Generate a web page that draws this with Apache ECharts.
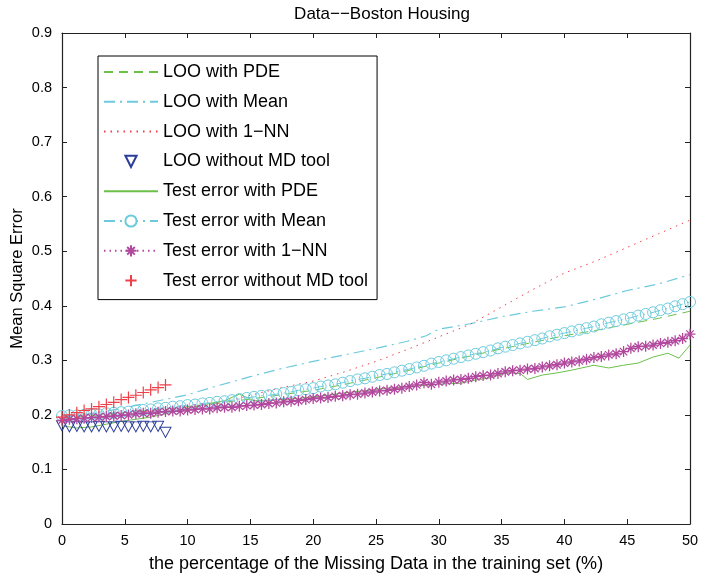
<!DOCTYPE html>
<html>
<head>
<meta charset="utf-8">
<script src="https://cdn.jsdelivr.net/npm/echarts@6/dist/echarts.min.js"></script>
<style>
  html, body { margin: 0; padding: 0; background: #fff; }
  #chart { width: 701px; height: 576px; }
</style>
</head>
<body>
<div id="chart"></div>
<script>
// missing-data percentage grid of the marker series
const missPct = [
  0.00, 0.59, 1.18, 1.76, 2.35, 2.94, 3.53, 4.12, 4.71, 5.29,
  5.88, 6.47, 7.06, 7.65, 8.24, 8.82, 9.41, 10.00, 10.59, 11.18,
  11.76, 12.35, 12.94, 13.53, 14.12, 14.71, 15.29, 15.88, 16.47, 17.06,
  17.65, 18.24, 18.82, 19.41, 20.00, 20.59, 21.18, 21.76, 22.35, 22.94,
  23.53, 24.12, 24.71, 25.29, 25.88, 26.47, 27.06, 27.65, 28.24, 28.82,
  29.41, 30.00, 30.59, 31.18, 31.76, 32.35, 32.94, 33.53, 34.12, 34.71,
  35.29, 35.88, 36.47, 37.06, 37.65, 38.24, 38.82, 39.41, 40.00, 40.59,
  41.18, 41.76, 42.35, 42.94, 43.53, 44.12, 44.71, 45.29, 45.88, 46.47,
  47.06, 47.65, 48.24, 48.82, 49.41, 50.00
];

// Test error with Mean (circles)
const testMean = [
  0.198, 0.199, 0.199, 0.200, 0.201, 0.201, 0.203, 0.204, 0.205, 0.206,
  0.208, 0.209, 0.210, 0.212, 0.213, 0.215, 0.216, 0.218, 0.219, 0.221,
  0.222, 0.224, 0.225, 0.227, 0.229, 0.231, 0.233, 0.235, 0.236, 0.238,
  0.240, 0.242, 0.245, 0.247, 0.249, 0.252, 0.254, 0.256, 0.259, 0.262,
  0.265, 0.267, 0.270, 0.273, 0.275, 0.278, 0.281, 0.284, 0.287, 0.290,
  0.294, 0.297, 0.300, 0.303, 0.306, 0.309, 0.312, 0.315, 0.318, 0.322,
  0.325, 0.328, 0.331, 0.334, 0.337, 0.340, 0.344, 0.347, 0.350, 0.353,
  0.356, 0.359, 0.362, 0.366, 0.369, 0.372, 0.375, 0.378, 0.382, 0.385,
  0.388, 0.392, 0.395, 0.399, 0.403, 0.407
];

// Test error with 1-NN (asterisks)
const testNN = [
  0.190, 0.192, 0.193, 0.194, 0.195, 0.196, 0.197, 0.198, 0.199, 0.200,
  0.202, 0.203, 0.203, 0.205, 0.206, 0.207, 0.207, 0.209, 0.210, 0.211,
  0.211, 0.213, 0.214, 0.214, 0.216, 0.217, 0.218, 0.219, 0.221, 0.222,
  0.224, 0.225, 0.226, 0.228, 0.230, 0.231, 0.232, 0.234, 0.235, 0.237,
  0.238, 0.240, 0.242, 0.244, 0.245, 0.247, 0.249, 0.252, 0.255, 0.259,
  0.256, 0.260, 0.262, 0.264, 0.265, 0.267, 0.270, 0.272, 0.273, 0.276,
  0.279, 0.281, 0.282, 0.284, 0.285, 0.288, 0.290, 0.292, 0.295, 0.297,
  0.299, 0.302, 0.305, 0.307, 0.310, 0.312, 0.316, 0.322, 0.325, 0.326,
  0.328, 0.331, 0.333, 0.336, 0.340, 0.348
];

// LOO without MD tool (triangles) and Test error without MD tool (plus)
const looNoTool = [
  0.180, 0.178, 0.179, 0.178, 0.178, 0.179, 0.178, 0.178, 0.179, 0.178,
  0.178, 0.179, 0.178, 0.179, 0.168
];
const testNoTool = [
  0.196, 0.200, 0.204, 0.208, 0.211, 0.215, 0.219, 0.223, 0.228, 0.232,
  0.236, 0.241, 0.246, 0.250, 0.255
];

// line-only series, [x, y] pairs
const loopde = [
  [0, 0.195], [2.5, 0.199], [5, 0.204], [7.5, 0.209], [10, 0.215], [12.5, 0.222],
  [15, 0.229], [17.5, 0.237], [20, 0.245], [22.5, 0.256], [25, 0.268], [27.5, 0.281],
  [30, 0.295], [32.5, 0.308], [35, 0.321], [37.5, 0.333], [40, 0.345], [42.5, 0.355],
  [45, 0.366], [47.5, 0.377], [50, 0.390]
];
const looMean = [
  [0, 0.195], [2.5, 0.203], [5, 0.213], [7.5, 0.225], [10, 0.237], [12.5, 0.254],
  [15, 0.270], [17.5, 0.285], [20, 0.298], [22.5, 0.310], [25, 0.322], [27.5, 0.335],
  [29, 0.345], [30, 0.357], [32.5, 0.367], [35, 0.380], [37.5, 0.390], [40, 0.398],
  [42.5, 0.412], [45, 0.428], [47.5, 0.440], [50, 0.457]
];
const looNN = [
  [0, 0.190], [2.5, 0.196], [5, 0.203], [7.5, 0.208], [10, 0.214], [12.5, 0.221],
  [15, 0.236], [17.5, 0.250], [20, 0.262], [22.5, 0.279], [25, 0.298], [27.5, 0.320],
  [30, 0.343], [32.5, 0.366], [35, 0.398], [37.5, 0.430], [40, 0.460], [42.5, 0.482],
  [45, 0.507], [47.5, 0.532], [50, 0.557]
];
const testPDE = [
  [0, 0.180], [1.18, 0.176], [2.35, 0.178], [3.53, 0.183], [4.71, 0.188], [5.88, 0.192],
  [7.06, 0.196], [8.24, 0.202], [9.41, 0.209], [10.59, 0.215], [11.76, 0.221], [12.94, 0.226],
  [14.12, 0.238], [15.29, 0.226], [16.47, 0.227], [17.65, 0.228], [18.82, 0.230], [20.00, 0.233],
  [21.18, 0.236], [22.35, 0.240], [23.53, 0.243], [24.71, 0.246], [25.88, 0.249], [27.06, 0.251],
  [28.24, 0.253], [29.41, 0.255], [30.59, 0.257], [31.76, 0.258], [32.94, 0.264], [34.12, 0.268],
  [35.29, 0.277], [36.47, 0.276], [37.06, 0.265], [38.24, 0.273], [39.41, 0.277], [40.59, 0.282],
  [42.35, 0.291], [43.53, 0.286], [44.71, 0.291], [45.88, 0.295], [47.06, 0.306], [48.24, 0.313],
  [49.12, 0.304], [50.00, 0.328]
];

const names = [
  'LOO with PDE', 'LOO with Mean', 'LOO with 1−NN', 'LOO without MD tool',
  'Test error with PDE', 'Test error with Mean', 'Test error with 1−NN', 'Test error without MD tool'
];

const FONT = '"Liberation Sans", Arial, Helvetica, sans-serif';
const GREEN = '#6cc04a', CYAN = '#6dcadd', RED = '#ef3f48', MAGENTA = '#b2489e', BLUE = '#2b3d9a';
const ASTER = 'path://M5,0L5,10M0,5L10,5M1.6,1.6L8.4,8.4M1.6,8.4L8.4,1.6';
const PLUS = 'path://M5,0L5,10M0,5L10,5';
const NOLINE = { width: 0, color: 'rgba(0,0,0,0)', opacity: 0 };
const HIDDEN = { color: 'rgba(0,0,0,0)', borderColor: 'rgba(0,0,0,0)' };

function pairs(ys) {
  return ys.map((y, i) => [missPct[i], y]);
}

let myChart = echarts.init(document.getElementById('chart'));

function axisBase(extra) {
  return Object.assign({
    axisLine: { show: true, onZero: false, lineStyle: { color: '#222', width: 1.2 } },
    axisTick: { show: true, inside: true, length: 5, lineStyle: { color: '#222' } },
    splitLine: { show: false }
  }, extra);
}

let option = {
  animation: false,
  textStyle: { fontFamily: FONT },
  title: {
    text: 'Data−−Boston Housing',
    left: 377,
    top: 1,
    textAlign: 'center',
    textStyle: { fontFamily: FONT, fontSize: 17, fontWeight: 'normal', color: '#000' }
  },
  grid: { left: 62, right: 11, top: 33, bottom: 52, containLabel: false, outerBoundsMode: 'none' },
  legend: {
    orient: 'vertical',
    left: 98,
    top: 56,
    padding: [7, 9, 10, 5],
    itemWidth: 54,
    itemHeight: 14,
    itemGap: 11.8,
    backgroundColor: '#fff',
    borderColor: '#000',
    borderWidth: 1,
    borderRadius: 0,
    textStyle: { fontFamily: FONT, fontSize: 18, color: '#000' },
    data: [
      { name: names[0], itemStyle: HIDDEN },
      { name: names[1], itemStyle: HIDDEN },
      { name: names[2], itemStyle: HIDDEN },
      { name: names[3] },
      { name: names[4], itemStyle: HIDDEN },
      { name: names[5], itemStyle: { color: '#fff' } },
      { name: names[6] },
      { name: names[7] }
    ]
  },
  xAxis: [
    axisBase({
      type: 'value', min: 0, max: 50, interval: 5,
      name: 'the percentage of the Missing Data in the training set (%)',
      nameLocation: 'middle', nameGap: 31, nameMoveOverlap: false,
      nameTextStyle: { fontFamily: FONT, fontSize: 18, color: '#000' },
      axisLabel: { fontFamily: FONT, fontSize: 14.5, color: '#000', margin: 9 }
    }),
    axisBase({
      type: 'value', min: 0, max: 50, interval: 5, position: 'top',
      axisLabel: { show: false }
    })
  ],
  yAxis: [
    axisBase({
      type: 'value', min: 0, max: 0.9, interval: 0.1,
      name: 'Mean Square Error',
      nameLocation: 'middle', nameGap: 36, nameMoveOverlap: false,
      nameTextStyle: { fontFamily: FONT, fontSize: 16.5, color: '#000' },
      axisLabel: { fontFamily: FONT, fontSize: 14.5, color: '#000', margin: 10 }
    }),
    axisBase({
      type: 'value', min: 0, max: 0.9, interval: 0.1, position: 'right',
      axisLabel: { show: false }
    })
  ],
  series: [
    {
      name: names[0], type: 'line', data: loopde, showSymbol: false, symbol: 'none',
      lineStyle: { color: GREEN, width: 1, type: [9, 6] },
      itemStyle: { color: GREEN }, z: 2
    },
    {
      name: names[1], type: 'line', data: looMean, showSymbol: false, symbol: 'none',
      lineStyle: { color: CYAN, width: 1.2, type: [11, 5, 2, 5] },
      itemStyle: { color: CYAN }, z: 2
    },
    {
      name: names[2], type: 'line', data: looNN, showSymbol: false, symbol: 'none',
      lineStyle: { color: RED, width: 1, type: [1.5, 5] },
      itemStyle: { color: RED }, z: 2
    },
    {
      name: names[3], type: 'line', data: pairs(looNoTool),
      symbol: 'triangle', symbolRotate: 180, symbolSize: [11, 10], showAllSymbol: true,
      lineStyle: NOLINE,
      itemStyle: { color: 'rgba(255,255,255,0)', borderColor: BLUE, borderWidth: 1 }, z: 3
    },
    {
      name: names[4], type: 'line', data: testPDE, showSymbol: false, symbol: 'none',
      lineStyle: { color: GREEN, width: 1 },
      itemStyle: { color: GREEN }, z: 2
    },
    {
      name: names[5], type: 'line', data: pairs(testMean),
      symbol: 'circle', symbolSize: 11, showSymbol: true, showAllSymbol: true,
      lineStyle: { color: CYAN, width: 1, type: [11, 5, 2, 5] },
      itemStyle: { color: 'rgba(255,255,255,0)', borderColor: CYAN, borderWidth: 1 }, z: 3
    },
    {
      name: names[6], type: 'line', data: pairs(testNN),
      symbol: ASTER, symbolSize: 11, showSymbol: true, showAllSymbol: true,
      lineStyle: { color: MAGENTA, width: 1, type: [1.5, 4] },
      itemStyle: { color: MAGENTA, borderColor: MAGENTA, borderWidth: 1.3 }, z: 4
    },
    {
      name: names[7], type: 'line', data: pairs(testNoTool),
      symbol: PLUS, symbolSize: 12, showAllSymbol: true,
      lineStyle: NOLINE,
      itemStyle: { color: RED, borderColor: RED, borderWidth: 1.2 }, z: 4
    }
  ]
};

myChart.setOption(option);
</script>
</body>
</html>
